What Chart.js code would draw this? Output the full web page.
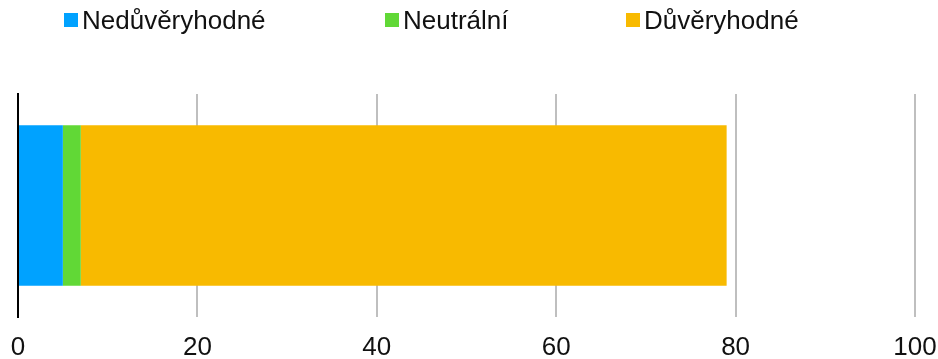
<!DOCTYPE html>
<html>
<head>
<meta charset="utf-8">
<script src="https://cdn.jsdelivr.net/npm/chart.js@4/dist/chart.umd.min.js"></script>
<style>
  body { margin: 0; background: #fff; }
  #wrap { position: relative; width: 938px; height: 359px; }
  #legend { position: absolute; left: 0; top: 0; width: 938px; height: 40px;
            font-family: "Liberation Sans", Arial, sans-serif; font-size: 26px; color: #111; }
  .item { position: absolute; top: 0; height: 40px; display: flex; align-items: center; white-space: nowrap; }
  .box { width: 14px; height: 14px; margin-right: 4px; }
</style>
</head>
<body>
<div id="wrap">
  <canvas id="chart" width="938" height="359"></canvas>
  <div id="legend"></div>
</div>
<script>
// Data
const categories = [''];
const seriesNames = ['Nedůvěryhodné', 'Neutrální', 'Důvěryhodné'];
const untrusted = [5];
const neutral = [2];
const trusted = [72];
const xTicks = [0, 20, 40, 60, 80, 100];

const colors = ['#00a2ff', '#61d836', '#f8ba00'];
const legendLeft = [64, 385, 626];

const values = [untrusted, neutral, trusted];

// Legend built from the datasets
const legendDiv = document.getElementById('legend');
seriesNames.forEach((name, i) => {
    const item = document.createElement('div');
    item.className = 'item';
    item.style.left = legendLeft[i] + 'px';
    item.innerHTML = `<span class="box" style="background:${colors[i]}"></span><span>${name}</span>`;
    legendDiv.appendChild(item);
});

new Chart(document.getElementById('chart'), {
    type: 'bar',
    data: {
        labels: categories,
        datasets: seriesNames.map((name, i) => ({
            label: name,
            data: values[i],
            backgroundColor: colors[i],
            borderWidth: 0,
            categoryPercentage: 0.8,
            barPercentage: 0.9
        }))
    },
    options: {
        indexAxis: 'y',
        responsive: false,
        animation: false,
        layout: { padding: { top: 94, left: 18, right: 23, bottom: -20 } },
        plugins: {
            legend: { display: false },
            tooltip: { enabled: false }
        },
        scales: {
            x: {
                stacked: true,
                min: xTicks[0],
                max: xTicks[xTicks.length - 1],
                afterBuildTicks: axis => { axis.ticks = xTicks.map(v => ({ value: v })); },
                afterFit: axis => { axis.paddingLeft = 0; axis.paddingRight = 0; },
                border: { display: false },
                grid: {
                    drawTicks: false,
                    lineWidth: 2,
                    color: ctx => ctx.tick && ctx.tick.value === 0 ? '#000000' : '#bfbfbf'
                },
                ticks: {
                    padding: 18,
                    color: '#111',
                    font: { family: '"Liberation Sans", Arial, sans-serif', size: 26, lineHeight: 1 }
                }
            },
            y: {
                stacked: true,
                z: 1,
                afterFit: axis => { axis.width = 0; },
                ticks: { display: false },
                grid: { display: false, drawTicks: false },
                border: { display: true, color: '#000000', width: 2 }
            }
        }
    }
});
</script>
</body>
</html>
